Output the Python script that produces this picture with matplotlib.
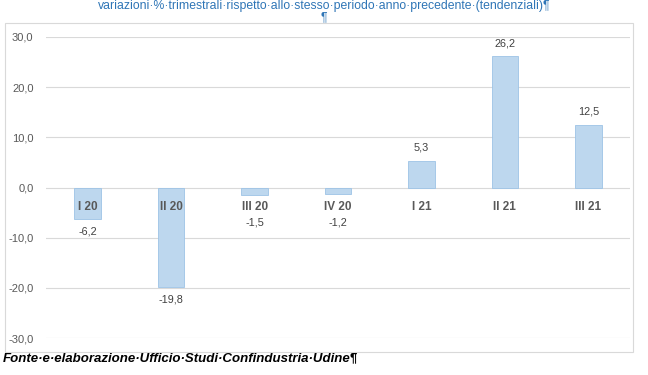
import matplotlib.pyplot as plt
from matplotlib.patches import Rectangle

# dati: variazioni % trimestrali tendenziali
categorie = ['I 20', 'II 20', 'III 20', 'IV 20', 'I 21', 'II 21', 'III 21']
valori = [-6.2, -19.8, -1.5, -1.2, 5.3, 26.2, 12.5]
yticks = [-30, -20, -10, 0, 10, 20, 30]

titolo = 'variazioni\u00b7%\u00b7trimestrali\u00b7rispetto\u00b7allo\u00b7stesso\u00b7periodo\u00b7anno\u00b7precedente\u00b7(tendenziali)\u00b6'
fonte = 'Fonte\u00b7e\u00b7elaborazione\u00b7Ufficio\u00b7Studi\u00b7Confindustria\u00b7Udine\u00b6'

plt.rcParams['font.family'] = ['Liberation Sans', 'DejaVu Sans']

fig = plt.figure(figsize=(6.48, 3.75), dpi=100)

# cornice del grafico
fig.patches.append(Rectangle((5 / 648, 1 - 352 / 375), 628 / 648, 329 / 375,
                             transform=fig.transFigure, fill=False,
                             edgecolor='#D9D9D9', linewidth=0.8))

ax = fig.add_axes([46 / 648, 1 - 338 / 375, 584 / 648, 301 / 375])
x = list(range(len(categorie)))
ax.bar(x, valori, width=0.32, color='#BDD7EE', edgecolor='#9DC3E6', linewidth=0.6, zorder=3)

ax.set_xlim(-0.5, len(categorie) - 0.5)
ax.set_ylim(-30, 30)
ax.set_yticks(yticks)
ax.set_yticklabels([f'{t:.1f}'.replace('.', ',') for t in yticks], fontsize=8, color='#595959')
ax.set_xticks([])
ax.tick_params(axis='y', length=0, pad=9)
ax.grid(axis='y', color='#D9D9D9', linewidth=0.8, zorder=0)
for s in ax.spines.values():
    s.set_visible(False)

for xi, cat, v in zip(x, categorie, valori):
    ax.text(xi, -3.8, cat, ha='center', va='center', fontsize=8.5,
            fontweight='bold', color='#595959', zorder=4)
    lab = f'{v:.1f}'.replace('.', ',')
    if v < 0:
        ax.text(xi, min(v - 2.6, -6.9), lab, ha='center', va='center',
                fontsize=7.8, color='#404040', zorder=4)
    else:
        ax.text(xi, v + 2.6, lab, ha='center', va='center',
                fontsize=7.8, color='#404040', zorder=4)

fig.text(0.5, 1 - 6 / 375, titolo, ha='center', va='center', fontsize=8.8, color='#2E75B6')
fig.text(0.5, 1 - 17 / 375, '\u00b6', ha='center', va='center', fontsize=8.8, color='#2E75B6')
fig.text(3 / 648, 1 - 358 / 375, fonte, ha='left', va='center', fontsize=9.5,
         fontweight='bold', fontstyle='italic', color='black')

fig.savefig('out.png', dpi=100)
